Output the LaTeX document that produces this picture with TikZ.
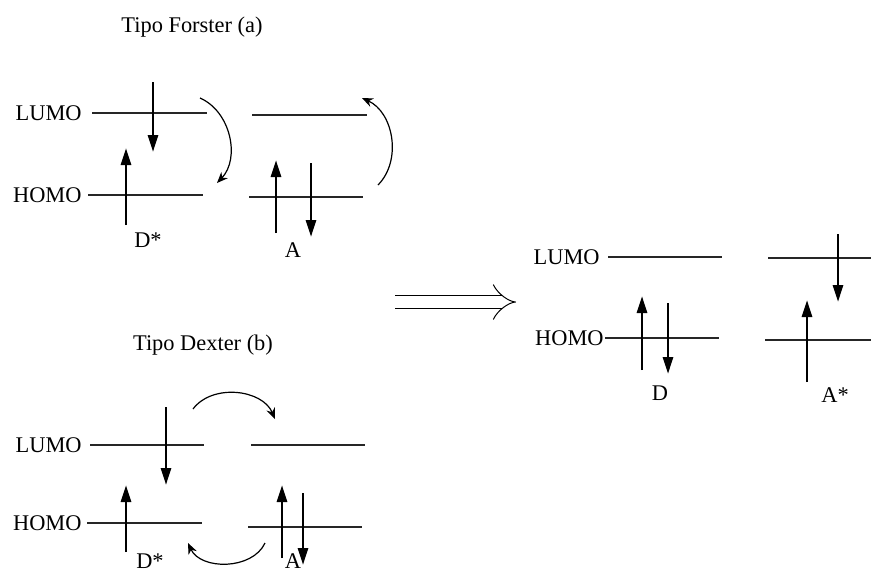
\documentclass[tikz,border=0pt]{standalone}
\usepackage{fontspec}
\setmainfont{Liberation Serif}
\usetikzlibrary{arrows.meta}

\tikzset{
    level/.style={line width=0.7pt, color=black!85},
    spin/.style={line width=1.4pt, -{Triangle[length=8.5pt,width=5pt]}},
    hop/.style={line width=0.6pt, -{Stealth[length=5.5pt,width=4.5pt]}},
    lbl/.style={inner sep=0pt, font=\fontsize{11.2}{13}\selectfont},
}

\begin{document}
\begin{tikzpicture}[x=0.5pt, y=-0.5pt]
    \useasboundingbox (0,0) rectangle (871,574);
    % titles
    \node[lbl] (forster) at (192,27) {Tipo Forster (a)};
    \node[lbl] (dexter) at (203,345) {Tipo Dexter (b)};
    % energy levels
    \foreach \xa/\xb/\y in {92/207/113, 88/203/195, 252/367/115, 249/363/197,
                            90/204/445, 87/202/523, 251/365/445, 248/362/527,
                            608/722/257, 605/719/338, 768/871/258, 765/871/340} {
        \draw[level] (\xa,\y) -- (\xb,\y);
    }
    \foreach \n/\x/\y/\lab in {lf/82/113/LUMO, hf/82/195/HOMO, ld/82/445/LUMO,
                               hd/82/523/HOMO, lr/600/257/LUMO, hr/604/338/HOMO} {
        \node[lbl, anchor=east] (\n) at (\x,\y) {\lab};
    }
    % spins
    \foreach \x/\ya/\yb in {153/82/152, 126/225/148, 276/233/160, 311/163/237,
                            166/407/485, 126/552/485, 282/558/485, 303/493/565,
                            642/370/296, 668/303/374, 838/234/302, 807/382/300} {
        \draw[spin] (\x,\ya) -- (\x,\yb);
    }
    \foreach \n/\x/\y/\lab in {df/148/240/{D*}, af/293/250/A, dd/150/561/{D*},
                               ad/293/561/A, dr/660/393/D, ar/835/395/{A*}} {
        \node[lbl] (\n) at (\x,\y) {\lab};
    }
    % transfers
    \coordinate (f1) at (200,98);
    \coordinate (f2) at (217,183);
    \coordinate (f3) at (378,185);
    \coordinate (f4) at (362,98);
    \draw[hop] (f1) to[bend left=55] (f2);
    \draw[hop] (f3) to[bend right=55] (f4);
    \coordinate (d1) at (193,409);
    \coordinate (d2) at (275,419);
    \coordinate (d3) at (265,543);
    \coordinate (d4) at (188,543);
    \draw[hop] (d1) to[bend left=60] (d2);
    \draw[hop] (d3) to[bend left=65] (d4);
    % result
    \coordinate (go1) at (395,302);
    \coordinate (go2) at (516,302);
    \draw[double, double distance=6pt, line width=0.5pt, -{Implies}] (go1) -- (go2);
\end{tikzpicture}
\end{document}
